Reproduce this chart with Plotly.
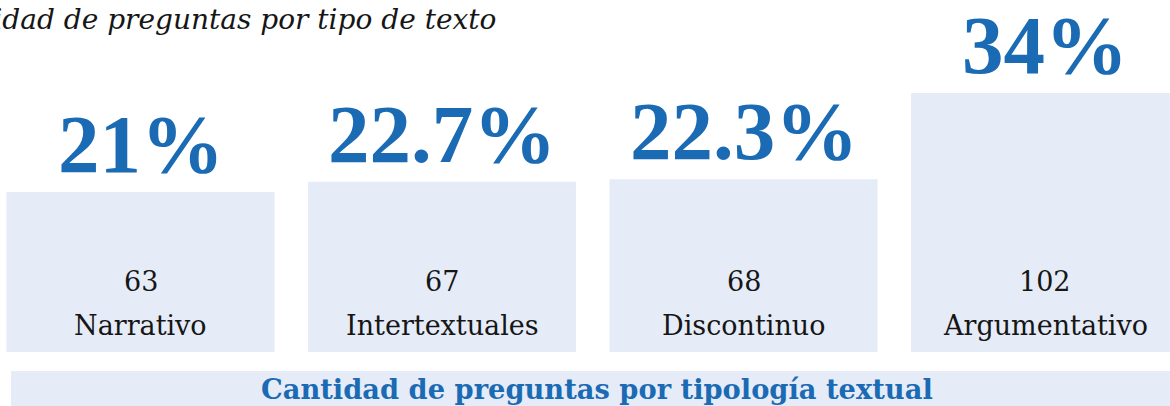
import plotly.graph_objects as go

# ---- data ----
categories = ["Narrativo", "Intertextuales", "Discontinuo", "Argumentativo"]
counts = [63, 67, 68, 102]
percent_labels = ["21%", "22.7%", "22.3%", "34%"]
title_text = "Cantidad de preguntas por tipo de texto"
footer_text = "Cantidad de preguntas por tipología textual"

# ---- style / layout ----
W, H = 1170, 406
PLOT_BOTTOM = 352          # pixel y of bar baseline
BAR_FILL = "#e5ecf8"
BLUE = "#1b6ab4"
INK = "#161616"


def py(pixel_y):
    """Convert a pixel y (from top) into paper coordinates."""
    return (PLOT_BOTTOM - pixel_y) / PLOT_BOTTOM


fig = go.Figure()
fig.add_trace(go.Bar(
    x=categories, y=counts,
    marker=dict(color=BAR_FILL, line=dict(width=0)),
    hoverinfo="skip",
))

annotations = []
for cat, cnt, pct in zip(categories, counts, percent_labels):
    # big percentage above each bar
    annotations.append(dict(
        x=cat, y=cnt, xref="x", yref="y", text=pct, showarrow=False,
        yanchor="bottom", xanchor="center", yshift=0,
        font=dict(family="Liberation Serif", size=83, color=BLUE, weight="bold"),
    ))
    # count inside bar
    annotations.append(dict(
        x=cat, y=0, xref="x", yref="y", text=str(cnt), showarrow=False,
        yanchor="bottom", xanchor="center", yshift=53,
        font=dict(family="DejaVu Serif", size=27, color=INK),
    ))
    # category name inside bar
    annotations.append(dict(
        x=cat, y=0, xref="x", yref="y", text=cat, showarrow=False,
        yanchor="bottom", xanchor="center", yshift=9,
        font=dict(family="DejaVu Serif", size=27, color=INK),
    ))

# title (partly cut off at the left edge, as in the reference)
annotations.append(dict(
    x=498 / W, y=py(0), xref="paper", yref="paper", text=title_text,
    showarrow=False, xanchor="right", yanchor="top", yshift=-1,
    font=dict(family="DejaVu Serif", size=28, color=INK, style="italic"),
))

# footer band text
annotations.append(dict(
    x=597 / W, y=py(407), xref="paper", yref="paper",
    text="<b>" + footer_text + "</b>",
    showarrow=False, xanchor="center", yanchor="bottom",
    font=dict(family="DejaVu Serif", size=27.3, color=BLUE),
))

shapes = [dict(
    type="rect", xref="paper", yref="paper",
    x0=11 / W, x1=1.02, y0=py(371), y1=py(460),
    fillcolor=BAR_FILL, line=dict(width=0), layer="below",
)]

fig.update_layout(
    width=W, height=H,
    margin=dict(l=0, r=0, t=0, b=H - PLOT_BOTTOM, pad=0),
    paper_bgcolor="white", plot_bgcolor="white",
    showlegend=False,
    bargap=0.111,
    xaxis=dict(range=[-0.466, 3.4146], visible=False, fixedrange=True),
    yaxis=dict(range=[0, PLOT_BOTTOM / 2.54], visible=False, fixedrange=True),
    annotations=annotations,
    shapes=shapes,
)

fig.write_html(
    "out.html",
    config={"displayModeBar": False},
    post_script="document.body.style.margin='0';document.body.style.overflow='hidden';",
)
